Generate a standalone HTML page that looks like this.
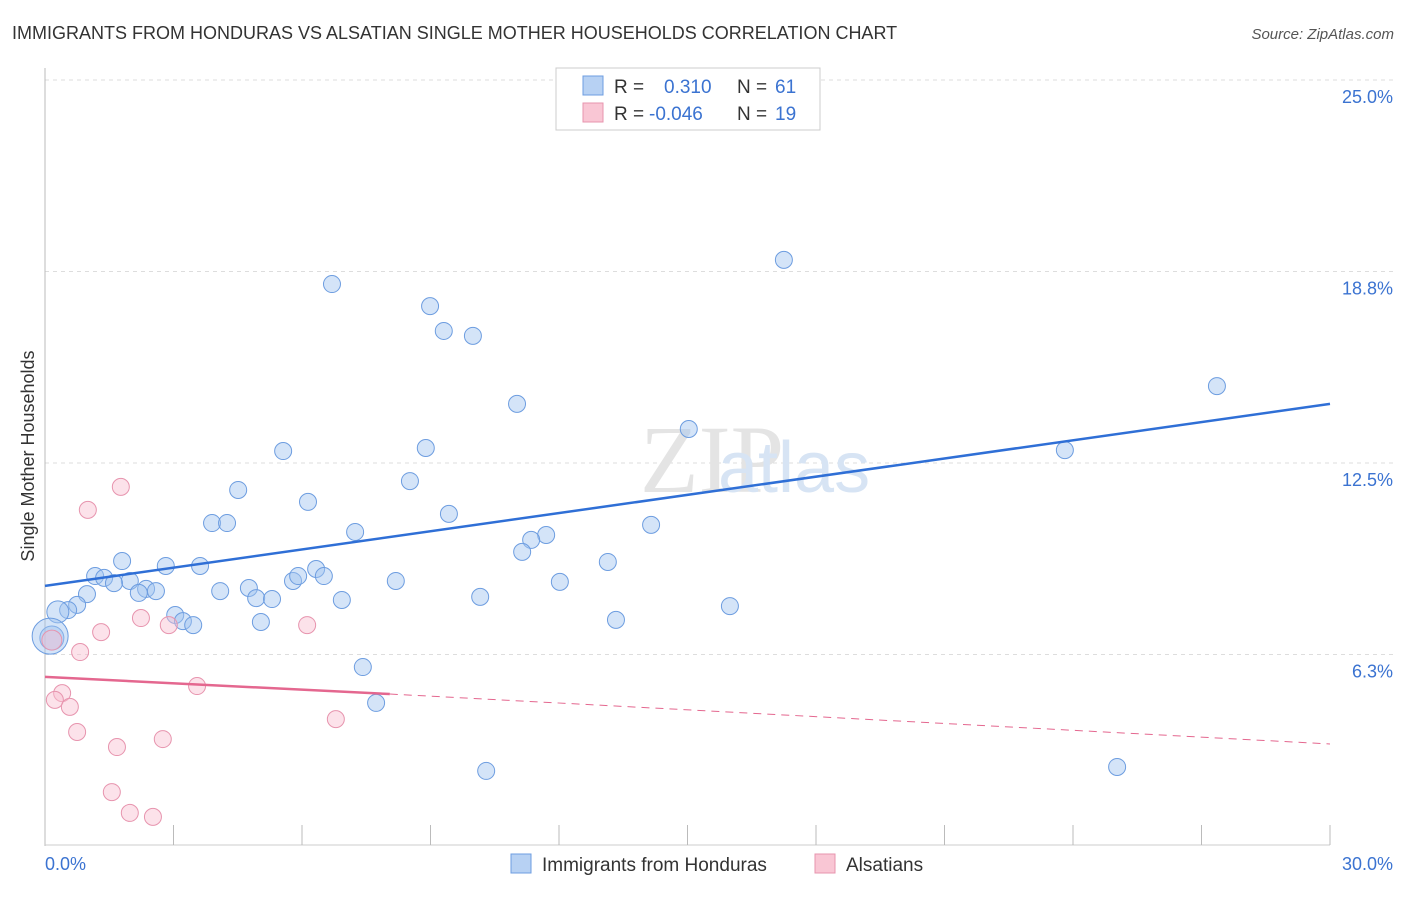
<!DOCTYPE html>
<html><head><meta charset="utf-8"><style>
body{margin:0;background:#fff;font-family:"Liberation Sans",sans-serif;}
</style></head><body>
<svg width="1406" height="892" xmlns="http://www.w3.org/2000/svg" font-family="Liberation Sans, sans-serif">
<text x="12" y="39" font-size="18" fill="#333">IMMIGRANTS FROM HONDURAS VS ALSATIAN SINGLE MOTHER HOUSEHOLDS CORRELATION CHART</text>
<text x="1394" y="39" font-size="15" fill="#555" text-anchor="end" font-style="italic">Source: ZipAtlas.com</text>
<g id="grid"></g>
<text x="640" y="492" font-size="96" fill="#e4e4e4" font-family="Liberation Serif, serif">ZIP</text>
<text x="718" y="492" font-size="72" fill="#d7e4f4">atlas</text>
<line x1="45" y1="68" x2="45" y2="846" stroke="#bbb"/>
<line x1="45" y1="845" x2="1330" y2="845" stroke="#ccc"/>
<g id="xticks"></g>
<g id="pts"></g>
<g id="lines"></g>
<text transform="translate(34,456) rotate(-90)" font-size="18" fill="#333" text-anchor="middle">Single Mother Households</text>
<text x="45" y="870" font-size="18" fill="#3b73d1">0.0%</text>
<text x="1393" y="870" font-size="18" fill="#3b73d1" text-anchor="end">30.0%</text>
<g>
<rect x="556" y="68" width="264" height="62" fill="#fff" stroke="#ccc"/>
<rect x="583" y="76" width="20" height="19" fill="#b7d1f3" stroke="#6d9de0"/>
<rect x="583" y="103" width="20" height="19" fill="#f9c6d4" stroke="#e794ae"/>
<text x="614" y="93" font-size="19" fill="#333">R = </text><text x="664" y="93" font-size="19" fill="#3b73d1">0.310</text>
<text x="737" y="93" font-size="19" fill="#333">N = </text><text x="775" y="93" font-size="19" fill="#3b73d1">61</text>
<text x="614" y="120" font-size="19" fill="#333">R = </text><text x="649" y="120" font-size="19" fill="#3b73d1">-0.046</text>
<text x="737" y="120" font-size="19" fill="#333">N = </text><text x="775" y="120" font-size="19" fill="#3b73d1">19</text>
</g>
<g>
<rect x="511" y="854" width="20" height="19" fill="#b7d1f3" stroke="#6d9de0"/>
<text x="542" y="871" font-size="19" fill="#333">Immigrants from Honduras</text>
<rect x="815" y="854" width="20" height="19" fill="#f9c6d4" stroke="#e794ae"/>
<text x="846" y="871" font-size="19" fill="#333">Alsatians</text>
</g>
</svg>
<script>
const yTicks=[25,18.75,12.5,6.25];
const yTickLabels=["25.0%","18.8%","12.5%","6.3%"];
const xTicks=[3,6,9,12,15,18,21,24,27,30];
const blueX=[6.70,17.25,8.99,9.31,9.99,11.02,15.03,27.36,23.81,5.56,8.89,8.52,4.51,6.14,3.90,4.25,9.43,7.24,14.15,11.70,11.35,11.14,1.80,2.82,3.62,1.17,1.38,1.98,1.61,2.36,2.59,2.19,4.09,4.76,4.93,5.30,5.79,5.91,6.33,6.51,6.93,8.19,10.16,12.02,13.14,0.98,0.75,0.54,0.30,3.04,3.22,3.46,5.04,13.33,15.99,0.16,7.42,7.73,10.30,25.03,0.12];
const blueY=[18.34,19.13,17.62,16.81,16.65,14.43,13.61,15.01,12.92,12.89,12.99,11.91,11.62,11.23,10.54,10.54,10.84,10.25,10.48,10.15,9.99,9.60,9.30,9.14,9.14,8.81,8.75,8.65,8.58,8.39,8.32,8.26,8.32,8.42,8.09,8.06,8.65,8.81,9.04,8.81,8.03,8.65,8.13,8.62,9.27,8.22,7.87,7.70,7.64,7.54,7.34,7.21,7.31,7.38,7.83,6.79,5.84,4.67,2.45,2.58,6.85];
const pinkX=[1.77,1.00,1.31,2.24,2.89,6.12,0.82,0.16,0.40,0.23,0.58,0.75,3.55,6.79,1.68,2.75,1.56,1.98,2.52];
const pinkY=[11.72,10.97,6.98,7.44,7.21,7.21,6.33,6.72,4.99,4.77,4.54,3.72,5.22,4.14,3.23,3.49,1.76,1.08,0.95];
const blueTrend=[[0,8.49],[30,14.43]];
const pinkTrend=[[0,5.52],[8.05,4.96],[30,3.33]];
const NS="http://www.w3.org/2000/svg";
const xs=v=>45+v/30*1285, ys=v=>846-v/25*766;
function mk(t,a,p){const e=document.createElementNS(NS,t);for(const k in a)e.setAttribute(k,a[k]);document.getElementById(p).appendChild(e);return e;}
yTicks.forEach((v,i)=>{
 const l=mk('line',{x1:45,x2:1394,y1:ys(v),y2:ys(v),stroke:'#ddd','stroke-dasharray':'4,4'},'grid');
 
 
 const t=mk('text',{x:1393,y:ys(v)+23,'font-size':18,fill:'#3b73d1','text-anchor':'end'},'grid');t.textContent=yTickLabels[i];
 
 
});
xTicks.forEach(v=>{const l=mk('line',{x1:xs(v),x2:xs(v),y1:825,y2:845,stroke:'#bbb'},'xticks');
 
 });
blueX.forEach((x,i)=>{let r=8.5;if(i===55)r=12;if(i===60)r=18;if(i===48)r=11;
 const c=mk('circle',{cx:xs(x),cy:ys(blueY[i]),r:r,fill:'rgba(160,195,240,0.45)',stroke:'#6d9de0','stroke-width':1},'pts');
 
 });
pinkX.forEach((x,i)=>{const r=i===7?10:8.5;
 const c=mk('circle',{cx:xs(x),cy:ys(pinkY[i]),r:r,fill:'rgba(248,190,208,0.45)',stroke:'#e794ae','stroke-width':1},'pts');
 
 });
const bl=mk('line',{x1:xs(blueTrend[0][0]),y1:ys(blueTrend[0][1]),x2:xs(blueTrend[1][0]),y2:ys(blueTrend[1][1]),stroke:'#2f6fd6','stroke-width':2.5},'lines');


const pl=mk('line',{x1:xs(pinkTrend[0][0]),y1:ys(pinkTrend[0][1]),x2:xs(pinkTrend[1][0]),y2:ys(pinkTrend[1][1]),stroke:'#e4678f','stroke-width':2.5},'lines');


const pd=mk('line',{x1:xs(pinkTrend[1][0]),y1:ys(pinkTrend[1][1]),x2:xs(pinkTrend[2][0]),y2:ys(pinkTrend[2][1]),stroke:'#e4678f','stroke-width':1,'stroke-dasharray':'8,6'},'lines');


</script>
</body></html>
